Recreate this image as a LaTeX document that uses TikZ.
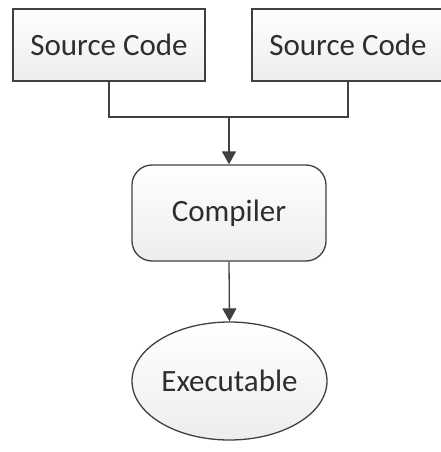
\documentclass[tikz,border=0pt]{standalone}
\usepackage{fontspec}
\setmainfont{Carlito}
\usetikzlibrary{shapes.geometric,arrows.meta}
\definecolor{edge}{HTML}{404040}
\definecolor{fillA}{HTML}{FFFFFF}
\definecolor{fillB}{HTML}{EDEDED}
\tikzset{
  x=1pt, y=-1pt,
  shape base/.style={draw=edge, line width=1.3pt, top color=fillA, bottom color=fillB,
    font=\fontsize{31}{34}\selectfont, text=black!82, inner sep=0pt},
  srcbox/.style={shape base, rectangle, minimum width=192pt, minimum height=72pt},
  procbox/.style={shape base, rectangle, rounded corners=20pt, minimum width=194pt, minimum height=96pt},
  outnode/.style={shape base, ellipse, minimum width=195pt, minimum height=118pt},
  link/.style={draw=edge, line width=1.3pt},
  arrowlink/.style={link, -{Triangle[length=13pt,width=14pt]}}
}
\begin{document}
\begin{tikzpicture}
\useasboundingbox (0,0) rectangle (441,452);
\node[srcbox] (src1) at (109,45) {Source Code};
\node[srcbox] (src2) at (348,45) {Source Code};
\node[procbox] (comp) at (229,213) {Compiler};
\node[outnode] (exe) at (229.5,381) {Executable};
\coordinate (join) at (229,117);
\draw[link] (src1.south) |- (join);
\draw[link] (src2.south) |- (join);
\draw[arrowlink] (join) -- (comp.north);
\draw[arrowlink] (comp.south) -- (exe.north);
\end{tikzpicture}
\end{document}
